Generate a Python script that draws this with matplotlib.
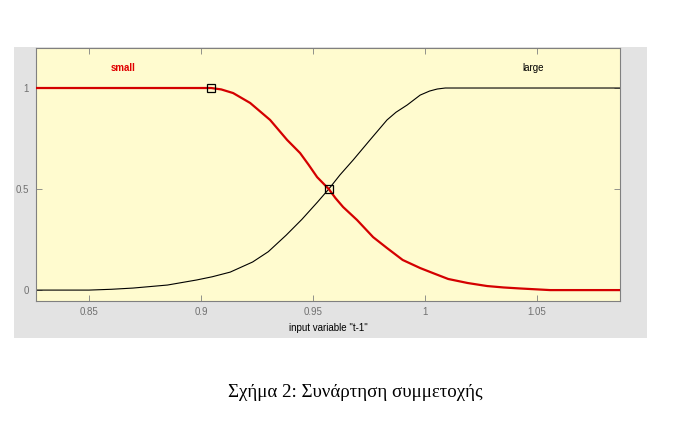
import matplotlib
matplotlib.use("Agg")
import matplotlib.pyplot as plt

# data
small_x = [0.8263, 0.8500, 0.8800, 0.9045, 0.9090, 0.9143, 0.9219, 0.9308, 0.9384,
           0.9442, 0.9480, 0.9518, 0.9570, 0.9600, 0.9634, 0.9696, 0.9768, 0.9830,
           0.9900, 0.9978, 1.0040, 1.0103, 1.0190, 1.0277, 1.0350, 1.0424, 1.0558,
           1.0870]
small_y = [1.0, 1.0, 1.0, 1.0, 0.993, 0.975, 0.926, 0.842, 0.743,
           0.678, 0.620, 0.559, 0.500, 0.455, 0.411, 0.347, 0.262, 0.208,
           0.149, 0.109, 0.082, 0.055, 0.035, 0.020, 0.013, 0.008, 0.0,
           0.0]
large_x = [0.8263, 0.8500, 0.8600, 0.8696, 0.8850, 0.8980, 0.9050, 0.9130, 0.9230,
           0.9300, 0.9380, 0.9450, 0.9520, 0.9570, 0.9620, 0.9679, 0.9754, 0.9830,
           0.9870, 0.9920, 0.9978, 1.0020, 1.0054, 1.0090, 1.0870]
large_y = [0.0, 0.0, 0.004, 0.01, 0.025, 0.05, 0.066, 0.089, 0.139,
           0.19, 0.272, 0.35, 0.436, 0.500, 0.57, 0.644, 0.743, 0.842,
           0.88, 0.916, 0.965, 0.985, 0.995, 1.0, 1.0]
marker_x = [0.9045, 0.9570]
marker_y = [1.0, 0.5]
xticks = [0.85, 0.9, 0.95, 1.0, 1.05]
xtick_labels = ["0.85", "0.9", "0.95", "1", "1.05"]
yticks = [0, 0.5, 1]
ytick_labels = ["0", "0.5", "1"]
labels = ["small", "large"]
label_x = [0.865, 1.048]
label_y = [1.10, 1.10]
xlabel = 'input variable "t-1"'
caption = "Σχήμα 2: Συνάρτηση συμμετοχής"

W, H = 673, 444
fig = plt.figure(figsize=(W / 100, H / 100), dpi=100)
fig.patch.set_facecolor("white")

bg = fig.add_axes([14 / W, (H - 338) / H, 633 / W, 291 / H], zorder=0)
bg.set_facecolor("#e3e3e3")
bg.set_xticks([])
bg.set_yticks([])
for s in bg.spines.values():
    s.set_visible(False)

ax = fig.add_axes([36 / W, (H - 301) / H, 584 / W, 253 / H], zorder=1)
ax.set_facecolor("#fffbcf")
ax.plot(large_x, large_y, color="black", lw=0.8, zorder=2)
ax.plot(small_x, small_y, color="#d40000", lw=1.6, zorder=3)
ax.plot(marker_x, marker_y, linestyle="none", marker="s", markersize=6,
        markerfacecolor="none", markeredgecolor="black", markeredgewidth=0.9, zorder=4)

ax.text(label_x[0], label_y[0], labels[0], color="#e00000", fontsize=7,
        fontweight="bold", ha="center", va="center", family="Liberation Sans")
ax.text(label_x[1], label_y[1], labels[1], color="black", fontsize=7,
        ha="center", va="center", family="Liberation Sans")

ax.set_xlim(0.8263, 1.087)
ax.set_ylim(-0.054, 1.198)
ax.set_xticks(xticks)
ax.set_xticklabels(xtick_labels)
ax.set_yticks(yticks)
ax.set_yticklabels(ytick_labels)
ax.tick_params(direction="in", length=4, width=0.6, color="#808080",
               labelcolor="#707070", labelsize=7, top=True, right=True, pad=5)
ax.tick_params(axis="x", pad=4)
for lab in ax.get_xticklabels() + ax.get_yticklabels():
    lab.set_family("Liberation Sans")
for s in ax.spines.values():
    s.set_color("#808080")
    s.set_linewidth(0.8)
ax.set_xlabel(xlabel, fontsize=7, family="Liberation Sans", labelpad=4.5)

fig.text(355 / W, 1 - 392 / H, caption, ha="center", va="center",
         fontsize=13.6, family="Liberation Serif")

fig.savefig("out.png", dpi=100)
